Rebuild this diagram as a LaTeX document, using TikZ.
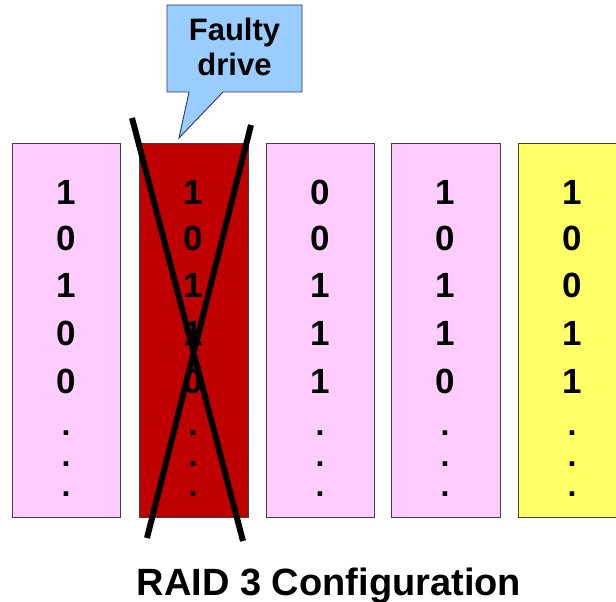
\documentclass[tikz,border=0pt]{standalone}
\usepackage{fontspec}
\setmainfont{Liberation Sans}
\definecolor{pinkd}{HTML}{FFCCFF}
\definecolor{redd}{HTML}{C00000}
\definecolor{yellowd}{HTML}{FFFF66}
\definecolor{calloutc}{HTML}{99CCFF}
\definecolor{edgec}{HTML}{404040}
\tikzset{
  drivebox/.style={draw=edgec, line width=0.9pt},
  digit/.style={anchor=base, inner sep=0pt, font=\fontsize{35}{35}\selectfont\bfseries},
  dots/.style={anchor=south, inner sep=0pt, align=center, font=\fontsize{32}{30.5}\selectfont\bfseries},
  crossline/.style={draw=black, line width=6pt},
  callout/.style={draw=edgec!80!blue, line width=0.9pt, fill=calloutc},
  callouttext/.style={anchor=base, inner sep=0pt, font=\fontsize{31}{31}\selectfont\bfseries},
  titletext/.style={anchor=base, inner sep=0pt, font=\fontsize{38}{38}\selectfont\bfseries}
}
\begin{document}
\begin{tikzpicture}[x=1pt,y=-1pt]
\clip (0,0) rectangle (616,602);
\fill[white] (0,0) rectangle (616,602);
% drives
\draw[drivebox, fill=pinkd]   (12,143) rectangle (120,517);
\draw[drivebox, fill=redd]    (139,143) rectangle (248,517);
\draw[drivebox, fill=pinkd]   (266,143) rectangle (374,517);
\draw[drivebox, fill=pinkd]   (391,143) rectangle (500,517);
\draw[drivebox, fill=yellowd] (518,143) rectangle (626,517);
% digits
\foreach \c/\x/\da/\db/\dc/\dd/\de in {1/66/1/0/1/0/0, 2/193/1/0/1/1/0, 3/320/0/0/1/1/1, 4/445/1/0/1/1/0, 5/572/1/0/0/1/1}{
  \node[digit] (d\c a) at (\x,204.5) {\da};
  \node[digit] (d\c b) at (\x,250.5) {\db};
  \node[digit] (d\c c) at (\x,297.5) {\dc};
  \node[digit] (d\c d) at (\x,345.5) {\dd};
  \node[digit] (d\c e) at (\x,393.5) {\de};
  \node[dots] (dots\c) at (\x,497) {.\\.\\.};
}
% cross
\coordinate (xa1) at (132,118);
\coordinate (xa2) at (243,541);
\coordinate (xb1) at (251,125);
\coordinate (xb2) at (147,538);
\draw[crossline] (xa1) -- (xa2);
\draw[crossline] (xb1) -- (xb2);
% callout
\draw[callout] (167,5) -- (302,5) -- (302,92) -- (223,92) -- (179,138) -- (189,92) -- (167,92) -- cycle;
\node[callouttext] (faulty) at (234.5,41) {Faulty};
\node[callouttext] (drive) at (234.5,75) {drive};
% title
\node[titletext] (title) at (329,595) {RAID 3 Configuration};
\end{tikzpicture}
\end{document}
